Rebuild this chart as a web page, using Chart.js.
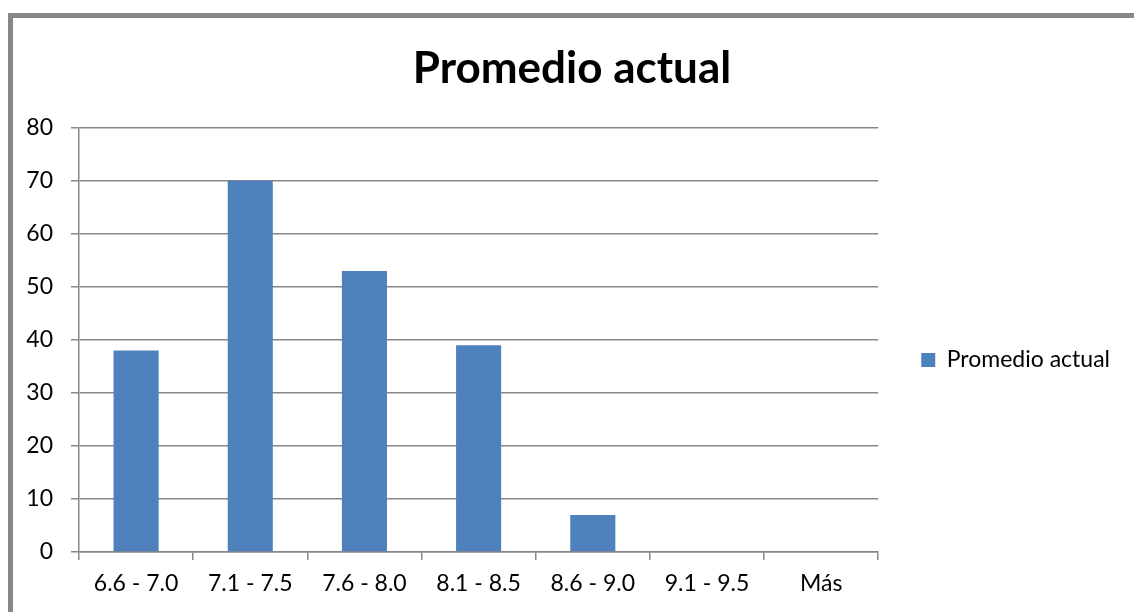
<!DOCTYPE html>
<html>
<head>
<meta charset="utf-8">
<script src="https://cdn.jsdelivr.net/npm/chart.js@4"></script>
<style>
  html, body { margin: 0; padding: 0; background: #fff; }
  #wrap { width: 1134px; height: 612px; }
</style>
</head>
<body>
<div id="wrap"><canvas id="grafico"></canvas></div>
<script>
const categorias = ["6.6 - 7.0", "7.1 - 7.5", "7.6 - 8.0", "8.1 - 8.5", "8.6 - 9.0", "9.1 - 9.5", "Más"];
const valores = [38, 70, 53, 39, 7, 0, 0];
const nombreSerie = "Promedio actual";
const ticksY = [0, 10, 20, 30, 40, 50, 60, 70, 80];

const gris = "#878787";
const fuente = "Lato, 'Open Sans', sans-serif";

// marco gris del gráfico (recortado a la derecha y abajo)
const marco = {
    id: "marco",
    beforeDraw(chart) {
        const ctx = chart.ctx;
        ctx.save();
        ctx.strokeStyle = gris;
        ctx.lineWidth = 5;
        ctx.strokeRect(10.5, 15.5, 1300, 800);
        ctx.restore();
    }
};

new Chart(document.getElementById("grafico"), {
    type: "bar",
    data: {
        labels: categorias,
        datasets: [{
            label: nombreSerie,
            data: valores,
            backgroundColor: "#4F81BD",
            borderWidth: 0,
            categoryPercentage: 1,
            barPercentage: 0.395
        }]
    },
    options: {
        responsive: true,
        maintainAspectRatio: false,
        animation: false,
        layout: { padding: { left: 24, right: 14, top: 0, bottom: 0 } },
        plugins: {
            title: {
                display: true,
                text: nombreSerie,
                color: "#000",
                font: { family: fuente, size: 44, weight: "bold", lineHeight: 1.2 },
                padding: { top: 42, bottom: 33 }
            },
            legend: {
                position: "right",
                title: {
                    display: true,
                    text: " ",
                    font: { size: 10, lineHeight: 1 },
                    padding: { top: 49, bottom: 49 }
                },
                labels: {
                    color: "#000",
                    font: { family: fuente, size: 23 },
                    boxWidth: 14,
                    boxHeight: 14,
                    padding: 43
                }
            },
            tooltip: { enabled: false }
        },
        scales: {
            x: {
                grid: {
                    offset: true,
                    drawOnChartArea: false,
                    drawTicks: true,
                    tickLength: 8,
                    color: gris,
                    lineWidth: 1.5
                },
                border: { color: gris, width: 1.5 },
                ticks: {
                    color: "#000",
                    font: { family: fuente, size: 23 },
                    padding: 10,
                    maxRotation: 0
                },
                afterFit(s) { s.height = 60; }
            },
            y: {
                min: 0,
                max: 80,
                afterBuildTicks(s) { s.ticks = ticksY.map(v => ({ value: v })); },
                grid: {
                    color: gris,
                    lineWidth: 1.5,
                    tickLength: 8
                },
                border: { color: gris, width: 1.5 },
                ticks: {
                    color: "#000",
                    font: { family: fuente, size: 23 },
                    padding: 18
                },
                afterFit(s) { s.width = 55; }
            }
        }
    },
    plugins: [marco]
});
</script>
</body>
</html>
